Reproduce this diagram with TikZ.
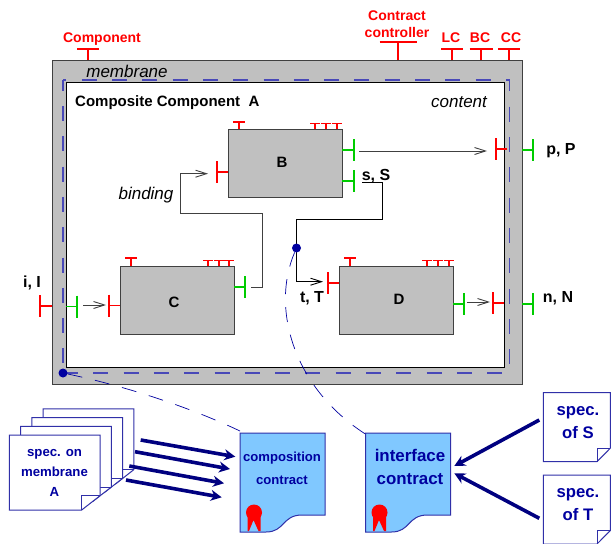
\documentclass[tikz,border=0pt]{standalone}
\usepackage{fontspec}
\setmainfont{Liberation Sans}
\usetikzlibrary{arrows.meta,positioning}
\definecolor{memb}{HTML}{C0C0C0}
\definecolor{edge}{HTML}{404040}
\definecolor{itfgreen}{HTML}{00CC00}
\definecolor{dashblue}{HTML}{4848B8}
\definecolor{navy}{HTML}{000080}
\definecolor{ink}{HTML}{0000A0}
\definecolor{sheetline}{HTML}{3030A8}
\definecolor{sky}{HTML}{80C8FF}
\tikzset{box/.style={draw=edge,fill=memb,line width=1pt,inner sep=0pt,minimum width=114pt,minimum height=68pt},
boxlab/.style={inner sep=0pt,font=\fontsize{15}{18}\selectfont\bfseries},
lab/.style={inner sep=0pt,font=\fontsize{16}{18}\selectfont\bfseries},
tag/.style={inner sep=0pt,align=center,text=red,font=\fontsize{14}{17}\selectfont\bfseries},
note/.style={inner sep=0pt,font=\fontsize{17}{19}\selectfont\itshape},
ctl/.style={draw=red,line width=1.2pt},
itf/.style={line width=1.4pt},
arr/.style={-{Straight Barb[length=11pt,width=7pt]},line width=.9pt,draw=edge},
fat/.style={-{Stealth[length=11pt,width=11pt]},line width=3.6pt,draw=navy},
link/.style={draw=ink,line width=.7pt,dash pattern=on 15pt off 13pt},
paper/.style={draw=sheetline,fill=white,line width=1pt},
spectxt/.style={inner sep=0pt,align=center,text=ink,font=\fontsize{16.7}{22.5}\selectfont\bfseries},
dot/.style={circle,fill=ink,inner sep=0pt,minimum size=9pt},
dashline/.style={draw=dashblue,line width=1.2pt}}
\begin{document}
\begin{tikzpicture}[x=1pt,y=-1pt]
\clip (0,0) rectangle (611,544);
\fill[white] (0,0) rectangle (611,544);
% membrane and content
\node[draw=edge,fill=memb,line width=1pt,inner sep=0pt,minimum width=470pt,minimum height=324pt] (membrane) at (287,222) {};
\node[draw=black,fill=white,line width=1pt,inner sep=0pt,minimum width=438pt,minimum height=284.5pt] (content) at (285,225) {};
\draw[dashline,dash pattern=on 15pt off 15.3pt,dash phase=11.6pt] (63,80) -- (509.5,80) -- (509.5,373);
\draw[dashline,dash pattern=on 15pt off 15.3pt,dash phase=4.3pt] (63,80) -- (63,373);
\draw[dashline,dash pattern=on 15pt off 15.3pt] (63,373) -- (504,373);
\node[note] (lmembrane) at (127,71) {membrane};
\node[note] (lcontent) at (459,102) {content};
\node[boxlab,anchor=west] (lcomp) at (75,102.5) {Composite Component\ \ A};
% subcomponents
\node[box] (B) at (285,163) {};
\node[box] (C) at (177,300) {};
\node[box] (D) at (396,300) {};
\node[boxlab] (lB) at (282,162) {B};
\node[boxlab] (lC) at (174,302) {C};
\node[boxlab] (lD) at (399,299) {D};
% controllers
\foreach \x/\y/\t/\w in {88/60/49/11,398/60/42/18.5,452/60/49/11,481/60/49/11.5,509/60/49/11,
 239/129/122/6,315/129/123.5/5,326/129/123.5/5,337/129/123.5/5,
 131/266/258/6,208/266/260.5/5,219/266/260.5/5,229/266/260.5/5,
 350/266/258/6,427/266/260.5/5,438/266/260.5/5,449/266/260.5/5}
 {\draw[ctl] (\x,\y) -- (\x,\t) (\x-\w,\t) -- (\x+\w,\t);}
% interfaces
\foreach \c/\x/\y/\e in {red/228/172/217,itfgreen/342/150/354,itfgreen/342/181/354,
 red/507/149/496,itfgreen/522/150/533,red/52/306/40,itfgreen/66/306.5/77,red/120/305.5/109,
 itfgreen/234/287/245,red/339/283/328,itfgreen/453/304/464,red/504/303/493,itfgreen/522/304/533}
 {\draw[itf,draw=\c] (\x,\y) -- (\e,\y) (\e,\y-11) -- (\e,\y+11);}
% bindings
\foreach \n/\x/\y in {Cout/251/287.5,Bin/208/173.7,Sout/362/182.5,Tin/323/281.7,Bout/359/151,Pin/487/151,Iout/83/305,Cin/106/305,Dout/467/302,Nin/490/302}
 {\coordinate (\n) at (\x,\y);}
\draw[arr] (Cout) -- (262,287.5) -- (262,213.7) -- (180,213.7) -- (180,173.7) -- (Bin);
\draw[arr,draw=black] (Sout) -- (382,182.5) -- (382,219.3) -- (296.5,219.3) -- (296.5,281.7) -- (Tin);
\draw[arr] (Bout) -- (Pin);
\draw[arr] (Iout) -- (Cin);
\draw[arr] (Dout) -- (Nin);
\node[note] (lbinding) at (146,195.5) {binding};
\node[lab] (ls) at (376,176) {s, S};
\node[lab] (lp) at (561,150.5) {p, P};
\node[lab] (ln) at (558,298) {n, N};
\node[lab] (lt) at (312,298) {t, T};
\node[lab] (li) at (32,283) {i, I};
\node[tag] (tcomp) at (102,39.5) {Component};
\node[tag] (tcc) at (397,24.5) {Contract\\controller};
\node[tag] (tlc) at (451,38) {LC};
\node[tag] (tbc) at (480,38) {BC};
\node[tag] (tcc2) at (511,38) {CC};
% contract links
\coordinate (compcorner) at (240,431);
\coordinate (intfcorner) at (367,435);
\node[dot] (dotm) at (63,373) {};
\node[dot] (dots) at (296.5,248) {};
\draw[link] (dotm) .. controls (120,385) and (185,405) .. (compcorner);
\draw[link] (dots) .. controls (270,310) and (295,390) .. (intfcorner);
% contracts
\foreach \x in {0,125.5}
 {\begin{scope}[shift={(\x,0)}]
 \draw[draw=sheetline,fill=sky,line width=1pt] (240,433) -- (325,433) -- (325,515) -- (302,515) .. controls (282,515) and (285,532) .. (266,532) -- (240,532) -- cycle;
 \fill[red] (247.5,515) -- (247.5,531) -- (249,531) -- (253.5,520) -- (258.5,531) -- (260.5,531) -- (260.5,515) -- cycle;
 \fill[red] (254,512.5) circle (8);
 \end{scope}}
\node[spectxt,font=\fontsize{13.1}{23}\selectfont\bfseries] (compc) at (282,468) {composition\\contract};
\node[spectxt,font=\fontsize{16.9}{23}\selectfont\bfseries] (intfc) at (410,466.5) {interface\\contract};
% spec sheets
\foreach \i in {3,2,1,0}
 {\begin{scope}[shift={(11.3*\i,-8.7*\i)}]
 \draw[paper] (9.3,435) -- (100,435) -- (100,495.7) -- (81.7,510) -- (9.3,510) -- cycle;
 \draw[draw=sheetline,line width=.8pt] (81.7,510) -- (81.7,495.7) -- (100,495.7);
 \end{scope}}
\node[spectxt,font=\fontsize{13.2}{20}\selectfont\bfseries] (specm) at (54.5,472.5) {spec. on\\membrane\\A};
\foreach \y in {392.7,475}
 {\begin{scope}[shift={(0,\y)}]
 \draw[paper] (543.3,0) -- (610.3,0) -- (610.3,55.5) -- (597,69) -- (543.3,69) -- cycle;
 \draw[draw=sheetline,line width=.8pt] (597,69) -- (597,55.5) -- (610.3,55.5);
 \end{scope}}
\node[spectxt] (specs) at (578,422.5) {spec.\\of S};
\node[spectxt] (spect) at (578,504.5) {spec.\\of T};
% refinement arrows
\foreach \n/\x/\y in {a1/140.7/440,a2/135/451.7,a3/129.3/466,a4/126/480,b1/235.3/456.7,b2/230/469,b3/224/483.3,b4/221.7/497.3,s1/539.3/420,s2/539.3/518.3,i1/454.3/466,i2/454.3/473.3}
 {\coordinate (\n) at (\x,\y);}
\foreach \k in {1,2,3,4}{\draw[fat] (a\k) -- (b\k);}
\draw[fat] (s1) -- (i1);
\draw[fat] (s2) -- (i2);
\end{tikzpicture}
\end{document}
